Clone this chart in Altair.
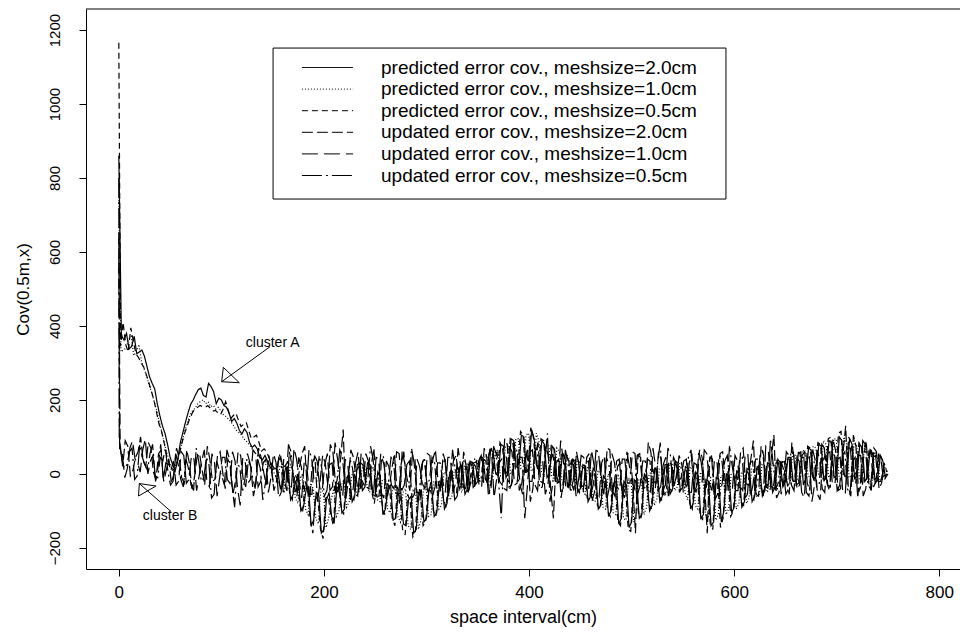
import altair as alt
import pandas as pd

# ---------------- data ----------------
series_names = [
    "predicted error cov., meshsize=2.0cm",
    "predicted error cov., meshsize=1.0cm",
    "predicted error cov., meshsize=0.5cm",
    "updated error cov., meshsize=2.0cm",
    "updated error cov., meshsize=1.0cm",
    "updated error cov., meshsize=0.5cm",
]

# every curve: lag 0, then one value every 2.5 cm; each curve sampled at its own phase (cm)
grid_shift = [0.0, 0.42, 0.83, 1.25, 1.67, 2.08]

# value at lag 0
peak = [860, 740, 1166, 650, 586, 800]
# value just after lag 0
first = [375, 330, 345, 80, 60, 90]

# values at 5, 10, ..., 750 cm
pred_20 = [
    362, 338, 372, 330, 318, 262, 230, 158, 110, 45,
    8, 85, 140, 188, 215, 232, 208, 236, 190, 200,
    180, 142, 138, 108, 112, 72, 68, 38, 35, 12,
    10, -30, 20, -55, -10, -90, -35, -125, -60, -150,
    -50, -130, -30, -95, -5, -60, 30, -35, 25, -60,
    -10, -95, -30, -120, -50, -140, -60, -150, -45, -120,
    -35, -105, -20, -80, 5, -60, 25, -40, 30, -20,
    45, -25, 60, -5, 75, 5, 90, 15, 100, 10,
    95, 10, 80, 0, 65, -20, 45, -30, 35, -40,
    20, -60, 5, -85, -15, -100, -20, -120, -30, -130,
    -25, -110, -10, -85, 10, -60, 25, -40, 30, -35,
    15, -80, -5, -110, -20, -130, -15, -100, -5, -90,
    -5, -75, 10, -60, 15, -45, 25, -35, 30, -20,
    45, -20, 60, -10, 65, -5, 75, 0, 85, -5,
    90, -10, 80, 0, 70, -10, 55, -15, 35, 0]

pred_10 = [
    335, 365, 320, 350, 285, 240, 195, 140, 80, 30,
    15, 60, 118, 160, 178, 196, 190, 182, 175, 170,
    155, 140, 118, 105, 88, 70, 52, 40, 22, 8,
    -20, 30, -45, 10, -80, -20, -110, -40, -135, -50,
    -120, -40, -100, -15, -75, 10, -45, 25, -50, 10,
    -75, -15, -105, -30, -130, -40, -150, -55, -125, -35,
    -110, -25, -85, 0, -65, 15, -50, 30, -25, 35,
    -20, 50, -10, 65, 0, 80, 10, 95, 20, 110,
    5, 90, -5, 70, -15, 60, -25, 40, -35, 30,
    -55, 10, -75, 0, -95, -10, -110, -15, -125, -20,
    -105, -15, -90, 5, -70, 15, -50, 25, -35, 25,
    -70, 10, -95, -10, -120, -15, -110, -5, -95, 0,
    -80, 0, -65, 10, -55, 20, -40, 25, -30, 30,
    -25, 50, -15, 55, -10, 70, -5, 80, 0, 95,
    -15, 85, -5, 75, -10, 60, -20, 45, -15, 5]

pred_05 = [
    410, 330, 360, 315, 290, 248, 200, 135, 85, 25,
    10, 55, 110, 150, 175, 185, 180, 178, 172, 160,
    195, 150, 165, 128, 140, 95, 105, 62, 60, 25,
    5, -40, 30, -70, -15, -105, -45, -160, -70, -175,
    -60, -140, -25, -110, 0, -70, 20, -30, 15, -80,
    -20, -110, -45, -140, -60, -165, -75, -155, -60, -130,
    -45, -115, -15, -90, 10, -55, 20, -35, 25, -15,
    40, -20, 55, 0, 70, 10, 85, 25, 105, 15,
    100, 5, 90, -10, 70, -25, 50, -40, 30, -50,
    15, -70, 0, -95, -25, -115, -35, -140, -40, -155,
    -35, -120, -20, -95, 0, -70, 15, -45, 20, -30,
    5, -95, -15, -125, -30, -150, -25, -120, -20, -100,
    -15, -85, 0, -70, 10, -50, 20, -40, 25, -25,
    40, -25, 55, -15, 70, -10, 80, 5, 100, 0,
    115, -5, 85, 5, 75, -5, 60, -10, 40, 0]

upd_20 = [
    20, 75, 10, 60, 35, 85, 5, 55, -20, 40,
    0, 45, -25, 30, -10, 55, -30, 40, -15, 60,
    -40, 25, -20, 50, -35, 20, -25, 45, -30, 15,
    -20, 35, -45, 25, -60, 55, -40, 30, -75, 50,
    -30, 60, -55, 120, -20, 45, -50, 35, -40, 70,
    -60, 25, -35, 55, -80, 30, -45, 40, -70, 20,
    -30, 65, -45, 30, -20, 50, -40, 20, -15, 35,
    -35, 45, -10, 60, -30, 80, -20, 55, -55, 70,
    -40, 85, -25, 50, -120, 40, -15, 35, -45, 25,
    -30, 55, -50, 40, -20, 65, -60, 30, -40, 50,
    -160, 45, -35, 60, -25, 40, -50, 25, -15, 30,
    -40, 55, -30, 45, -160, 40, -55, 60, -35, 35,
    -45, 70, -30, 90, -60, 50, -25, 105, -50, 40,
    -55, 35, -30, 60, -45, 40, -70, 50, -35, 65,
    -40, 130, -60, 75, -30, 90, -45, 60, -25, 5]

upd_10 = [
    55, 15, 90, 30, 65, 0, 50, 20, -15, 25,
    35, -20, 50, -15, 40, -5, 65, -35, 30, -10,
    45, -25, 35, -85, 30, -15, 55, -20, 40, -10,
    30, -50, 15, -35, 40, -65, 20, -55, 35, -45,
    55, -35, 40, -60, 25, -45, 60, -25, 35, -55,
    40, -65, 20, -40, 55, -30, 35, -55, 20, -40,
    50, -35, 30, -50, 45, -25, 20, -40, 30, -10,
    50, -30, 70, -15, 40, -45, 60, -25, 45, -35,
    65, -45, 35, -30, 55, -20, 40, -35, 25, -15,
    45, -40, 25, -60, 50, -35, 30, -45, 40, -25,
    55, -30, 35, -50, 20, -35, 45, -20, 30, -10,
    40, -50, 25, -35, 55, -45, 30, -25, 50, -40,
    35, -45, 55, -30, 40, -60, 65, -35, 30, -20,
    50, -45, 35, -65, 55, -30, 40, -50, 60, -25,
    45, -55, 70, -30, 50, -40, 65, -20, 35, -5]

upd_05 = [
    40, 25, 70, -5, 45, 10, 80, -10, 35, 5,
    -20, 25, -35, 15, -45, 35, -10, 25, -55, 10,
    -30, 40, -90, 20, -15, 30, -40, 15, -25, 35,
    -10, 45, -30, 60, -50, 20, -40, 45, -20, 15,
    -45, 30, -15, 50, -35, 15, -60, 25, -10, 40,
    -30, 50, -20, 35, -55, 60, -25, 30, -50, 45,
    -15, 30, -55, 40, -30, 15, -45, 25, -5, 20,
    -20, 35, -40, 55, -120, 45, -30, 65, -25, 55,
    -20, 70, -35, 110, -30, 45, -50, 30, -20, 40,
    -45, 35, -25, 50, -55, 25, -30, 40, -65, 20,
    -40, 55, -20, 35, -45, 85, -30, 50, -15, 25,
    -25, 65, -50, 30, -35, 50, -20, 40, -45, 25,
    -30, 45, -55, 35, -20, 60, -40, 30, -25, 15,
    -40, 55, -25, 45, -60, 35, -30, 70, -45, 50,
    -30, 60, -55, 45, -35, 80, -40, 50, -20, 0]

# values halfway between: 7.5, 12.5, ..., 747.5 cm
pred_20_mid = [
    380, 345, 325, 335, 290, 245, 190, 130, 80, 25,
    40, 112, 165, 200, 228, 212, 245, 222, 205, 185,
    165, 150, 118, 122, 85, 78, 45, 50, 18, 15,
    -40, 15, -70, -20, -100, -45, -140, -50, -160, -70,
    -115, -40, -105, -10, -75, 25, -45, 30, -55, 5,
    -110, -35, -125, -55, -135, -70, -160, -55, -130, -40,
    -115, -30, -95, 0, -70, 20, -55, 35, -30, 45,
    -15, 65, 0, 80, -10, 95, 20, 105, 5, 120,
    25, 90, -10, 75, -25, 55, -35, 40, -50, 25,
    -75, 15, -95, -5, -115, -25, -135, -20, -145, -15,
    -120, 0, -100, 15, -75, 25, -55, 35, -45, 20,
    -95, 5, -120, -15, -140, -10, -130, 0, -105, 10,
    -90, 15, -75, 20, -60, 30, -50, 40, -35, 45,
    -20, 55, -30, 70, -15, 80, -20, 90, -10, 100,
    -5, 95, -15, 80, -20, 65, -25, 50, -10]

pred_10_mid = [
    340, 372, 330, 305, 265, 220, 170, 110, 55, 10,
    35, 90, 140, 172, 190, 200, 195, 185, 180, 160,
    148, 130, 112, 95, 80, 60, 45, 30, 15, 0,
    20, -40, 25, -65, -5, -95, -25, -120, -40, -145,
    -70, -115, -30, -90, -5, -60, 15, -35, 20, -70,
    -15, -95, -35, -115, -50, -140, -45, -150, -40, -115,
    -20, -95, 5, -70, 10, -45, 25, -30, 40, -20,
    50, -20, 60, -5, 75, 0, 95, 15, 105, 10,
    110, 5, 85, -5, 70, -20, 50, -35, 40, -45,
    20, -70, 10, -90, 0, -105, -5, -120, -10, -130,
    -15, -110, 0, -85, 15, -60, 25, -45, 30, -50,
    20, -85, 5, -110, -10, -125, -5, -110, 0, -95,
    5, -80, 15, -60, 25, -50, 30, -40, 35, -30,
    60, -20, 65, -5, 75, 0, 90, -10, 95, -5,
    100, -10, 90, -15, 75, -20, 60, -15, 20]

pred_05_mid = [
    350, 395, 325, 300, 270, 225, 168, 115, 50, 15,
    30, 85, 130, 165, 180, 182, 185, 170, 165, 175,
    172, 158, 145, 134, 118, 100, 85, 68, 42, 15,
    -30, 20, -55, 0, -85, -20, -125, -60, -150, -65,
    -110, -30, -90, -15, -60, 10, -15, 15, -50, -10,
    -80, -20, -120, -35, -150, -55, -170, -50, -140, -45,
    -100, -25, -70, 0, -50, 25, -40, 30, -25, 40,
    -10, 65, 5, 85, -5, 95, 15, 115, 0, 125,
    30, 95, 15, 80, -5, 60, -20, 45, -35, 20,
    -65, 10, -85, -15, -100, -25, -130, -30, -150, -35,
    -105, -10, -80, 10, -60, 20, -40, 30, -50, 15,
    -80, 0, -105, -20, -135, -25, -145, -15, -115, -5,
    -75, 10, -60, 15, -45, 25, -35, 35, -20, 40,
    -15, 60, -5, 75, -10, 85, -15, 95, -5, 110,
    -10, 100, -5, 85, -20, 70, -15, 55, -5]

upd_20_mid = [
    90, -5, 45, 100, 20, 70, -15, 65, 10, -25,
    70, -10, 65, -40, 45, 10, 75, -20, 50, 5,
    40, -55, 60, -15, 35, -60, 70, 5, 50, -45,
    55, -15, 60, -35, 20, 75, -65, 45, -20, 30,
    80, -25, 40, -70, 65, -10, 55, -35, 25, -60,
    45, -70, 15, -45, 60, -15, 50, -75, 35, -55,
    40, -20, 55, -60, 35, -5, 60, -45, 25, -30,
    70, -50, 35, -20, 95, -40, 65, -30, 40, -75,
    55, -20, 75, -45, 30, -65, 50, -25, 60, -35,
    45, -75, 35, -25, 70, -45, 20, -60, 55, -30,
    50, -40, 85, -20, 60, -55, 35, -30, 50, -15,
    30, -50, 65, -35, 45, -70, 55, -20, 40, -45,
    60, -25, 40, -55, 75, -35, 45, -65, 30, -20,
    85, -40, 50, -25, 70, -55, 35, -30, 95, -45,
    60, -35, 105, -50, 45, -25, 70, -40, 30]

upd_10_mid = [
    -10, 70, 40, 5, 95, 35, -20, 80, 30, 10,
    -30, 60, -25, 50, -45, 35, -20, 55, -60, 45,
    -15, 60, -40, 45, -25, 65, -35, 30, -50, 55,
    -65, 40, -30, 70, -20, 35, -55, 50, -35, 25,
    -45, 85, -25, 40, -70, 30, -40, 55, -20, 45,
    -50, 35, -30, 60, -45, 25, -65, 40, -25, 55,
    -60, 30, -20, 45, -50, 70, -35, 25, -45, 35,
    -25, 55, -65, 30, -40, 75, -30, 45, -120, 60,
    -30, 45, -55, 35, -20, 90, -40, 30, -60, 50,
    -20, 65, -45, 30, -70, 55, -35, 40, -25, 60,
    -55, 35, -30, 70, -45, 25, -60, 45, -20, 35,
    -50, 30, -40, 65, -25, 40, -60, 35, -30, 50,
    -35, 55, -60, 40, -25, 75, -45, 30, -55, 60,
    -30, 45, -50, 35, -75, 65, -40, 55, -30, 40,
    -45, 70, -25, 50, -60, 40, -35, 55, -20]

upd_05_mid = [
    15, 60, -15, 80, 25, 55, -5, 45, 70, -30,
    55, -15, 40, -30, 70, -20, 45, -65, 35, -5,
    65, -35, 25, -50, 55, -10, 40, -70, 30, -20,
    35, -55, 80, -25, 45, -40, 65, -20, 50, -60,
    25, -45, 65, -30, 40, -55, 30, -20, 75, -40,
    55, -25, 45, -60, 30, -35, 70, -50, 25, -30,
    45, -50, 20, -35, 65, -20, 40, -55, 30, -15,
    40, -60, 75, -25, 50, -35, 85, -45, 30, -20,
    60, -40, 35, -75, 45, -25, 65, -50, 40, -30,
    30, -55, 70, -20, 45, -65, 35, -40, 60, -25,
    50, -25, 40, -60, 30, -45, 70, -35, 25, -50,
    45, -35, 60, -25, 35, -55, 50, -30, 75, -20,
    40, -65, 30, -45, 55, -25, 95, -40, 35, -55,
    65, -30, 45, -50, 30, -35, 80, -25, 55, -45,
    50, -40, 35, -60, 90, -30, 45, -20, 10]

main_vals = [pred_20, pred_10, pred_05, upd_20, upd_10, upd_05]
mid_vals = [pred_20_mid, pred_10_mid, pred_05_mid, upd_20_mid, upd_10_mid, upd_05_mid]

# annotations (data coordinates)
label_text = ["cluster A", "cluster B"]
label_x = [150, 50]
label_y = [353, -113]

arrow_group = ["A"] * 5 + ["B"] * 5
arrow_x = [147.4, 100.3, 101.9, 117.5, 100.3, 50.9, 20.0, 19.2, 36.3, 20.0]
arrow_y = [343.9, 249.3, 288.2, 246.6, 249.3, -101.7, -26.0, -59.7, -32.7, -26.0]

# legend frame (data coordinates)
legend_box_x = [150.4, 592.0]
legend_box_y = [1151.4, 743.2]

x_ticks = [0, 200, 400, 600, 800]
y_ticks = [-200, 0, 200, 400, 600, 800, 1000, 1200]

# ---------------- build table ----------------
rows = []
for k, name in enumerate(series_names):
    mv, dv, sh = main_vals[k], mid_vals[k], grid_shift[k]
    assert len(mv) == 150 and len(dv) == 149, (name, len(mv), len(dv))
    seq = [first[k]]
    for j in range(150):
        seq.append(mv[j])
        if j < 149:
            seq.append(dv[j])
    rows.append({"x": 0.0, "cov": peak[k], "series": name})
    for m, yv in enumerate(seq, start=1):
        rows.append({"x": 2.5 * m - sh, "cov": yv, "series": name})
df = pd.DataFrame(rows)

df_lab = pd.DataFrame({"x": label_x, "y": label_y, "t": label_text})
df_arr = pd.DataFrame({"x": arrow_x, "y": arrow_y, "g": arrow_group,
                       "i": list(range(len(arrow_x)))})
df_box = pd.DataFrame({"bx": [legend_box_x[0]], "bx2": [legend_box_x[1]],
                       "by": [legend_box_y[0]], "by2": [legend_box_y[1]]})

FONT = "Liberation Sans"
XDOM = [-32, 820.2]
YDOM = [-257, 1257]

xscale = alt.Scale(domain=XDOM, nice=False, zero=False)
yscale = alt.Scale(domain=YDOM, nice=False, zero=False)

dash_range = [[1, 0], [1, 2], [6, 4], [11, 4], [16, 6], [20, 4, 2, 4]]

box = alt.Chart(df_box).mark_rect(fill="white", stroke="black", strokeWidth=1).encode(
    x=alt.X("bx:Q", scale=xscale), x2=alt.X2("bx2"),
    y=alt.Y("by:Q", scale=yscale), y2=alt.Y2("by2"))

lines = alt.Chart(df).mark_line(color="black", strokeWidth=1.2).encode(
    x=alt.X("x:Q", scale=xscale,
            axis=alt.Axis(values=x_ticks, title="space interval(cm)", grid=False,
                          tickSize=7, labelPadding=8, titlePadding=8,
                          labelFontSize=17, titleFontSize=18,
                          domain=True, domainColor="black", tickColor="black",
                          labelFlush=False)),
    y=alt.Y("cov:Q", scale=yscale,
            axis=alt.Axis(values=y_ticks, title="Cov(0.5m,x)", grid=False,
                          format="d", labelFontSize=15, titleFontSize=17,
                          tickSize=7, labelAngle=-90, labelAlign="center",
                          labelBaseline="bottom", labelPadding=17, titlePadding=15,
                          domain=True, domainColor="black", tickColor="black",
                          labelFlush=False)),
    strokeDash=alt.StrokeDash(
        "series:N",
        scale=alt.Scale(domain=series_names, range=dash_range),
        legend=alt.Legend(
            title=None, orient="none", legendX=187, legendY=38,
            padding=11,
            symbolType="M-3.2,0H3.2", symbolSize=256, symbolStrokeWidth=1,
            symbolStrokeColor="black", symbolFillColor="transparent",
            symbolOffset=34, labelOffset=44, rowPadding=1.6,
            labelFontSize=19, labelFont=FONT, labelColor="black",
            labelLimit=600,
        ),
        sort=series_names,
    ),
    detail="series:N",
    order="x:Q",
)

top_frame = alt.Chart(pd.DataFrame({"v": [YDOM[1]]})).mark_rule(
    color="black", strokeWidth=1).encode(y=alt.Y("v:Q", scale=yscale))

labels = alt.Chart(df_lab).mark_text(font=FONT, fontSize=14, color="black").encode(
    x=alt.X("x:Q", scale=xscale), y=alt.Y("y:Q", scale=yscale), text="t:N")

arrows = alt.Chart(df_arr).mark_line(color="black", strokeWidth=1).encode(
    x=alt.X("x:Q", scale=xscale), y=alt.Y("y:Q", scale=yscale),
    detail="g:N", order="i:Q")

chart = alt.layer(box, lines, top_frame, arrows, labels).properties(
    width=874, height=560,
    background="white",
    autosize=alt.AutoSizeParams(type="none"),
    padding={"left": 78, "top": 1, "right": 0, "bottom": 58},
).configure_view(stroke=None).configure_axis(
    labelFont=FONT, titleFont=FONT,
    labelColor="black", titleColor="black", titleFontWeight="normal",
)

chart.save("out.html", embed_options={"renderer": "svg", "actions": False})
